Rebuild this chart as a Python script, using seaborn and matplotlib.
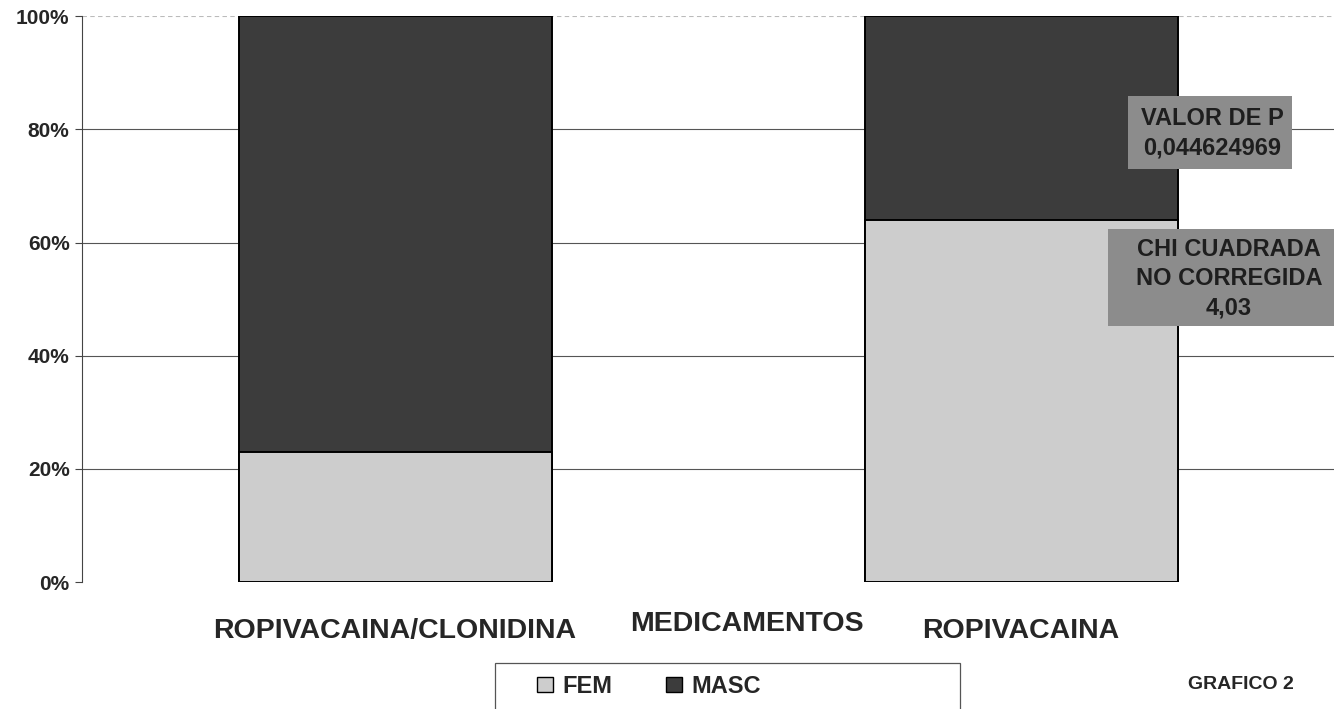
import matplotlib
matplotlib.use("Agg")
import matplotlib.pyplot as plt
import seaborn as sns
import pandas as pd
from matplotlib.patches import Patch, Rectangle

sns.set_theme(style="white")
plt.rcParams['font.family'] = ['Liberation Sans', 'DejaVu Sans']

medicamentos = ["ROPIVACAINA/CLONIDINA", "ROPIVACAINA"]
fem = [23, 64]
masc = [77, 36]

df = pd.DataFrame({"med": medicamentos, "fem": fem,
                   "total": [f + m for f, m in zip(fem, masc)]})

fig = plt.figure(figsize=(13.34, 7.09), dpi=100)
ax = fig.add_axes([0.0615, 0.179, 0.9385, 0.798])

dark = "#3c3c3c"
light = "#cdcdcd"

# stacked 100% bars: full height in MASC colour, FEM drawn over the bottom part
sns.barplot(data=df, x="med", y="total", color=dark, width=0.5,
            edgecolor="black", linewidth=1.4, ax=ax, saturation=1)
sns.barplot(data=df, x="med", y="fem", color=light, width=0.5,
            edgecolor="black", linewidth=1.4, ax=ax, saturation=1)

ax.set_xlim(-0.5, 1.5)
ax.set_ylim(0, 100)
ax.set_yticks([0, 20, 40, 60, 80, 100])
ax.set_yticklabels(["0%", "20%", "40%", "60%", "80%", "100%"],
                   fontsize=15, fontweight="bold")
ax.tick_params(axis="y", length=5, width=0.8, color="#444444", pad=4, left=True)
ax.set_axisbelow(True)
for v in [20, 40, 60, 80]:
    ax.axhline(v, color="#555555", lw=0.8, zorder=0)
ax.axhline(100, color="#bbbbbb", lw=0.8, ls=(0, (4, 3)), zorder=0)

for s in ["top", "right", "bottom"]:
    ax.spines[s].set_visible(False)
ax.spines["left"].set_color("#444444")
ax.spines["left"].set_linewidth(0.8)

ax.set_xticks([0, 1])
ax.set_xticklabels(medicamentos, fontsize=20.5, fontweight="bold")
ax.tick_params(axis="x", length=0, pad=26)
ax.set_xlabel("")
ax.set_ylabel("")
fig.text(0.560, 0.120, "MEDICAMENTOS", ha="center", va="center",
         fontsize=20.5, fontweight="bold")

# statistical annotation boxes
box_color = "#8c8c8c"
ax.add_patch(Rectangle((1.302 - 0.131, 73.0), 0.262, 12.9, facecolor=box_color,
                       edgecolor="none", zorder=3, clip_on=False))
ax.text(1.305, 79.3, "VALOR DE P\n0,044624969", ha="center", va="center",
        fontsize=17, fontweight="bold", color="#1e1e1e", linespacing=1.35,
        zorder=4)
ax.add_patch(Rectangle((1.139, 45.2), 0.362, 17.2, facecolor=box_color,
                       edgecolor="none", zorder=3, clip_on=False))
ax.text(1.332, 53.6, "CHI CUADRADA\nNO CORREGIDA\n4,03", ha="center",
        va="center", fontsize=17, fontweight="bold", color="#1e1e1e",
        linespacing=1.35, zorder=4)

# legend frame (open at the bottom edge of the figure)
fig.add_artist(Rectangle((495 / 1334, -0.02), (960 - 495) / 1334,
                         (709 - 663) / 709 + 0.02, transform=fig.transFigure,
                         facecolor="white", edgecolor="#555555", lw=0.9))
handles = [Patch(facecolor=light, edgecolor="black", label="FEM"),
           Patch(facecolor=dark, edgecolor="black", label="MASC")]
leg = fig.legend(handles=handles, loc="center", bbox_to_anchor=(0.4865, 0.032),
                 ncol=2, frameon=False, columnspacing=2.3,
                 handlelength=0.65, handleheight=0.65, handletextpad=0.4,
                 prop={"size": 17, "weight": "bold"})

fig.text(0.93, 0.034, "GRAFICO 2", ha="center", va="center",
         fontsize=14, fontweight="bold")

fig.savefig("out.png", dpi=100)
